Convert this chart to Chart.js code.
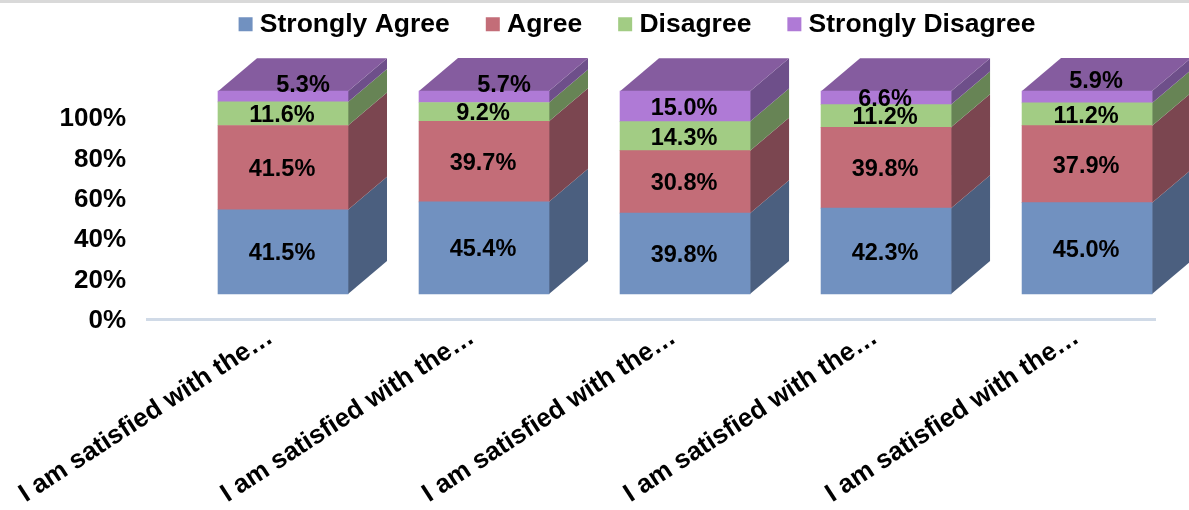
<!DOCTYPE html>
<html>
<head>
<meta charset="utf-8">
<style>
  html, body { margin: 0; padding: 0; background: #fff; overflow: hidden; }
  #strip { position: absolute; left: 0; top: 0; width: 1189px; height: 3px; background: #d9d9d9; }
  canvas { position: absolute; left: 0; top: 0; }
</style>
<script src="https://cdn.jsdelivr.net/npm/chart.js@4"></script>
</head>
<body>
<canvas id="chart" width="1189" height="510"></canvas>
<div id="strip"></div>
<script>
const categories = [
  'I am satisfied with the…',
  'I am satisfied with the…',
  'I am satisfied with the…',
  'I am satisfied with the…',
  'I am satisfied with the…'
];
const stronglyAgree = [41.5, 45.4, 39.8, 42.3, 45.0];
const agree = [41.5, 39.7, 30.8, 39.8, 37.9];
const disagree = [11.6, 9.2, 14.3, 11.2, 11.2];
const stronglyDisagree = [5.3, 5.7, 15.0, 6.6, 5.9];

const FONT = '"Liberation Sans", Arial, sans-serif';
const DEPTH_X = 39;
const DEPTH_Y = 33;

// the top labels that sit up on the lid of the box in the original: [dataset, column, dx, dy]
const labelNudges = [
  [3, 0, 21, -13],
  [3, 1, 21, -13],
  [3, 4, 10, -17]
];

function series(label, values, front, side) {
  return {
    label: label,
    data: values.map((v, i) => ({ x: i + 1, y: v })),
    backgroundColor: front,
    sideColor: side,
    xAxisID: 'xBars',
    yAxisID: 'yBars',
    stack: 'all',
    barThickness: 130
  };
}

const box3d = {
  id: 'box3d',
  afterLayout(chart) {
    // legend is centred over the bars, not the canvas
    chart.legend.left += 62.5;
    chart.legend.right += 62.5;
  },
  beforeDatasetsDraw(chart) {
    const ctx = chart.ctx;
    chart.data.datasets.forEach((ds, d) => {
      chart.getDatasetMeta(d).data.forEach(bar => {
        const right = bar.x + bar.width / 2;
        ctx.fillStyle = ds.sideColor;
        ctx.beginPath();
        ctx.moveTo(right, bar.y);
        ctx.lineTo(right + DEPTH_X, bar.y - DEPTH_Y);
        ctx.lineTo(right + DEPTH_X, bar.base - DEPTH_Y);
        ctx.lineTo(right, bar.base);
        ctx.closePath();
        ctx.fill();
      });
    });
    // lid
    const last = chart.data.datasets.length - 1;
    chart.getDatasetMeta(last).data.forEach(bar => {
      const left = bar.x - bar.width / 2;
      const right = bar.x + bar.width / 2;
      ctx.fillStyle = '#855c9f';
      ctx.beginPath();
      ctx.moveTo(left, bar.y);
      ctx.lineTo(left + DEPTH_X, bar.y - DEPTH_Y);
      ctx.lineTo(right + DEPTH_X, bar.y - DEPTH_Y);
      ctx.lineTo(right, bar.y);
      ctx.closePath();
      ctx.fill();
    });
  },
  afterDatasetsDraw(chart) {
    const ctx = chart.ctx;
    ctx.font = 'bold 23.5px ' + FONT;
    ctx.fillStyle = '#000';
    ctx.textAlign = 'center';
    ctx.textBaseline = 'middle';
    chart.data.datasets.forEach((ds, d) => {
      chart.getDatasetMeta(d).data.forEach((bar, i) => {
        const nudge = labelNudges.find(n => n[0] === d && n[1] === i);
        const dx = nudge ? nudge[2] : 0;
        const dy = nudge ? nudge[3] : 0;
        ctx.fillText(ds.data[i].y.toFixed(1) + '%', bar.x - 1 + dx, (bar.y + bar.base) / 2 + 2 + dy);
      });
    });
  }
};

new Chart(document.getElementById('chart'), {
  type: 'bar',
  data: {
    labels: categories,
    datasets: [
      series('Strongly Agree', stronglyAgree, '#7191c0', '#4b5f7f'),
      series('Agree', agree, '#c36d78', '#7b4650'),
      series('Disagree', disagree, '#a2cc84', '#678455'),
      series('Strongly Disagree', stronglyDisagree, '#af7ad6', '#6e4f8a')
    ]
  },
  options: {
    responsive: false,
    animation: false,
    layout: { padding: { left: 0, right: 34, top: -31, bottom: 0 } },
    plugins: {
      tooltip: { enabled: false },
      legend: {
        position: 'top',
        labels: {
          usePointStyle: true,
          pointStyle: 'rect',
          boxWidth: 2,
          boxHeight: 14,
          padding: 42,
          color: '#000',
          font: { family: FONT, size: 26.5, weight: 'bold' }
        }
      }
    },
    scales: {
      x: {
        type: 'category',
        offset: true,
        grid: { display: false },
        border: { display: true, color: '#d0dae7', width: 3 },
        ticks: {
          autoSkip: false,
          minRotation: 33,
          maxRotation: 33,
          labelOffset: 22.5,
          padding: -5,
          color: '#000',
          font: { family: FONT, size: 26, weight: 'bold' }
        },
        afterFit(s) { s.height = 191; s.paddingLeft = 0; s.paddingRight = 0; }
      },
      xBars: {
        type: 'linear',
        axis: 'x',
        display: false,
        offset: false,
        min: 0.3234,
        max: 5.338
      },
      y: {
        min: 0,
        max: 134.4,
        grid: { display: false },
        border: { display: false },
        ticks: {
          stepSize: 20,
          padding: 13,
          labelOffset: 2,
          color: '#000',
          font: { family: FONT, size: 26, weight: 'bold' },
          callback: v => (v <= 100 ? v + '%' : '')
        },
        afterFit(s) { s.width = 147; s.paddingTop = 0; s.paddingBottom = 0; }
      },
      yBars: {
        axis: 'y',
        display: false,
        stacked: true,
        min: -12.3,
        max: 121.4
      }
    }
  },
  plugins: [box3d]
});
</script>
</body>
</html>
